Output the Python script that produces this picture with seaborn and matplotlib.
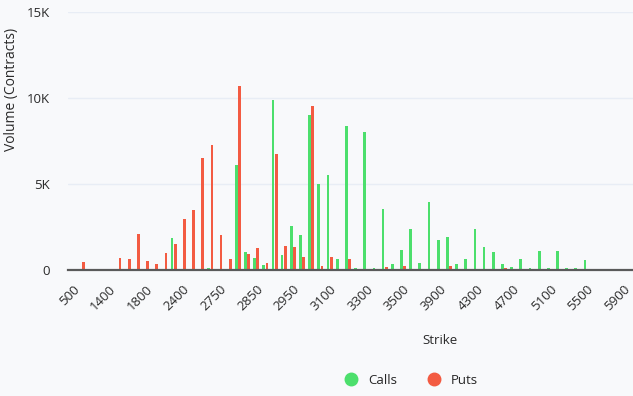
import numpy as np
import pandas as pd
import matplotlib
matplotlib.use('Agg')
import matplotlib.pyplot as plt
from matplotlib.lines import Line2D
from matplotlib.ticker import FuncFormatter
import seaborn as sns

# strikes (categorical x axis)
strikes = [500, 800, 1000, 1200, 1400, 1500, 1600, 1700, 1800, 2000,
           2100, 2200, 2400, 2500, 2600, 2700, 2750, 2775, 2800, 2825,
           2850, 2875, 2900, 2925, 2950, 2975, 3000, 3050, 3100, 3150,
           3200, 3250, 3300, 3350, 3400, 3450, 3500, 3600, 3700, 3800,
           3900, 4000, 4100, 4200, 4300, 4400, 4500, 4600, 4700, 4800,
           4900, 5000, 5100, 5200, 5300, 5400, 5500, 5600, 5700, 5800,
           5900, 6000]

# volumes in contracts
calls = [50, 0, 0, 0, 0, 0, 0, 0, 0, 50,
         50, 1875, 50, 50, 50, 130, 0, 50, 6090, 1070,
         700, 300, 9910, 890, 2530, 2010, 9030, 4990, 5510, 650,
         8360, 130, 8050, 130, 3550, 320, 1160, 2390, 430, 3950,
         1740, 1930, 370, 640, 2390, 1350, 1030, 320, 200, 640,
         130, 1090, 130, 1090, 130, 130, 570, 0, 0, 0,
         0, 50]
puts = [0, 450, 0, 0, 0, 700, 650, 2120, 500, 320,
        970, 1490, 2990, 3490, 6490, 7260, 2010, 650, 10700, 910,
        1300, 390, 6740, 1370, 1360, 780, 9550, 260, 780, 0,
        650, 0, 70, 0, 180, 0, 260, 0, 0, 0,
        0, 260, 0, 0, 0, 0, 0, 140, 0, 0,
        0, 0, 0, 0, 0, 0, 0, 0, 0, 0,
        0, 0]

green = '#4cdf6c'
red = '#f35b42'
bg = '#f8f9fb'

labels = [str(s) for s in strikes]
df = pd.DataFrame({
    'strike': labels * 2,
    'volume': calls + puts,
    'type': ['Calls'] * len(labels) + ['Puts'] * len(labels),
})

sns.set_style('white')
plt.rcParams['font.family'] = ['Open Sans', 'DejaVu Sans']

fig = plt.figure(figsize=(6.33, 3.96), dpi=100, facecolor=bg)
ax = fig.add_axes([68 / 633, 1 - 270 / 396, 565 / 633, 258 / 396])
ax.set_facecolor(bg)

sns.barplot(data=df, x='strike', y='volume', hue='type', order=labels,
            hue_order=['Calls', 'Puts'], palette=[green, red],
            width=0.7, gap=0.15, saturation=1, linewidth=0,
            legend=False, ax=ax)

ax.set_ylim(0, 15000)
ax.set_xlim(-0.5, 61.05)
ax.set_yticks([0, 5000, 10000, 15000])
ax.yaxis.set_major_formatter(FuncFormatter(lambda v, p: '0' if v == 0 else f'{int(v/1000)}K'))
ax.yaxis.grid(True, color='#e8edf5', lw=1)
ax.set_axisbelow(True)

ticks = list(range(0, len(labels), 4))
ax.set_xticks(ticks)
ax.set_xticklabels([labels[i] for i in ticks], rotation=45, ha='right',
                   rotation_mode='anchor')
ax.tick_params(axis='x', length=0, pad=9, labelsize=9.5, labelcolor='#2a2a2a')
ax.tick_params(axis='y', length=0, pad=13, labelsize=9.5, labelcolor='#2a2a2a')

for s in ['top', 'right', 'left']:
    ax.spines[s].set_visible(False)
ax.spines['bottom'].set_color('#5a5a5a')
ax.spines['bottom'].set_linewidth(1.6)

ax.set_xlabel('Strike', fontsize=9.5, color='#2a2a2a')
ax.xaxis.set_label_coords((440 - 68) / 565, -(334 - 270) / 258)
ax.set_ylabel('Volume (Contracts)', fontsize=10, color='#2a2a2a')
ax.yaxis.set_label_coords(-(68 - 19) / 565, (270 - 89) / 258)

handles = [Line2D([], [], marker='o', ls='', markersize=9, color=green, label='Calls'),
           Line2D([], [], marker='o', ls='', markersize=9, color=red, label='Puts')]
fig.legend(handles=handles, loc='center', bbox_to_anchor=(408 / 633, 1 - 380 / 396),
           ncol=2, frameon=False, fontsize=9.5, handletextpad=0.3, columnspacing=1.8)

fig.savefig('out.png', dpi=100, facecolor=bg)
